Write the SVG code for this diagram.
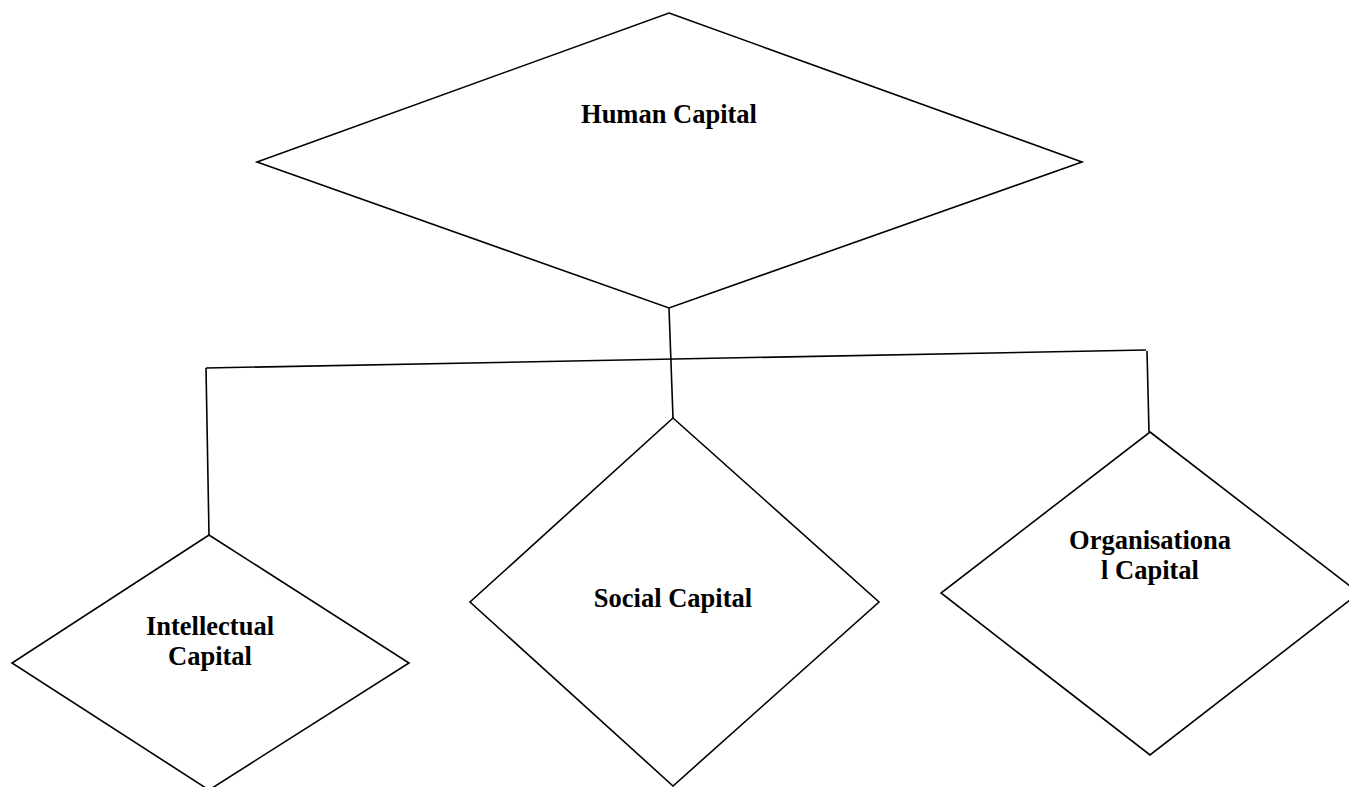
<svg xmlns="http://www.w3.org/2000/svg" width="1349" height="787" viewBox="0 0 1349 787">
<style>
.shape{fill:#ffffff;stroke:#000000;stroke-width:1.6;stroke-linejoin:miter}
.conn{fill:none;stroke:#000000;stroke-width:1.6}
.lbl{font-family:"Liberation Serif","Times New Roman",serif;font-weight:bold;font-size:26.5px;fill:#000000;text-anchor:middle}
</style>
<rect width="1349" height="787" fill="#ffffff"/>
<g id="connectors">
<line class="conn" x1="669" y1="308" x2="673" y2="418"/>
<line class="conn" x1="206" y1="368" x2="1146" y2="350"/>
<line class="conn" x1="206" y1="368" x2="209" y2="535"/>
<line class="conn" x1="1147" y1="351" x2="1149" y2="432"/>
</g>
<g id="human-capital">
<polygon class="shape" points="669,13 1082,162 669,308 257,162"/>
<text class="lbl" x="669" y="123">Human Capital</text>
</g>
<g id="intellectual-capital">
<polygon class="shape" points="209,535 409,663 209,790 12,663"/>
<text class="lbl" x="210" y="635">Intellectual</text>
<text class="lbl" x="210" y="665">Capital</text>
</g>
<g id="social-capital">
<polygon class="shape" points="673,418 879,602 673,786 470,602"/>
<text class="lbl" x="673" y="607">Social Capital</text>
</g>
<g id="organisational-capital">
<polygon class="shape" points="1150,432 1359,593 1150,755 941,593"/>
<text class="lbl" x="1150" y="549">Organisationa</text>
<text class="lbl" x="1150" y="579">l Capital</text>
</g>
</svg>
